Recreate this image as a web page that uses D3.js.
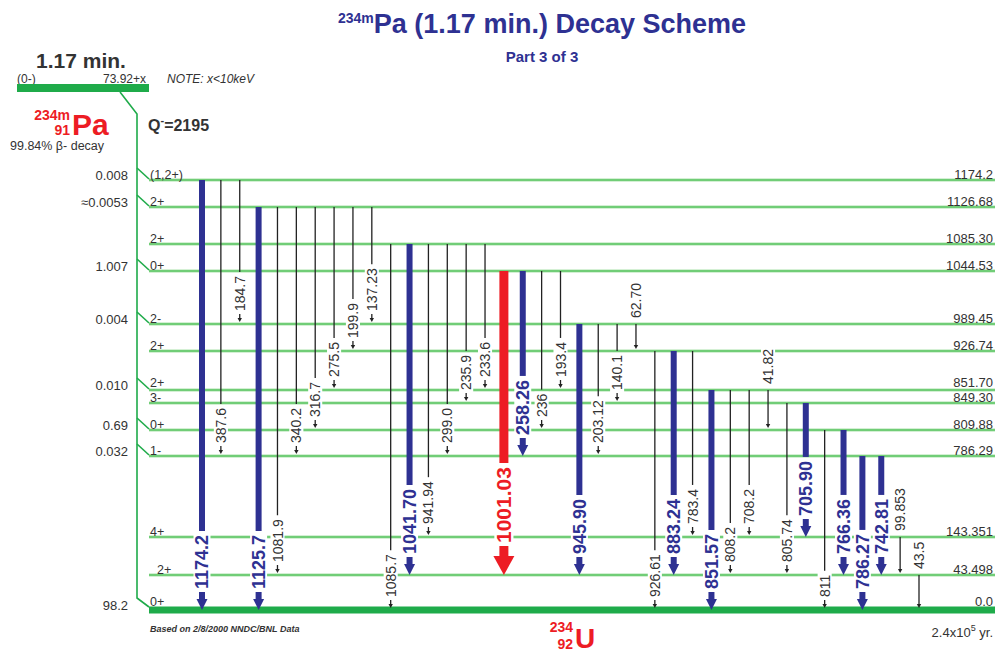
<!DOCTYPE html>
<html lang="en">
<head>
<meta charset="UTF-8">
<title>234mPa Decay Scheme - Part 3</title>
<script src="https://d3js.org/d3.v7.min.js"></script>
<style>
    body { margin: 0; background: #fff; }
    svg { display: block; font-family: "Liberation Sans", Arial, sans-serif; }
    .txt { fill: #333; }
</style>
</head>
<body>
<div id="chart"></div>
<script>
// levels of 234U fed in this part
const levelEnergies = [1174.2, 1126.68, 1085.30, 1044.53, 989.45, 926.74, 851.70, 849.30, 809.88, 786.29, 143.351, 43.498, 0.0];
const levelLabels = ["1174.2", "1126.68", "1085.30", "1044.53", "989.45", "926.74", "851.70", "849.30", "809.88", "786.29", "143.351", "43.498", "0.0"];
const levelSpins = ["(1,2+)", "2+", "2+", "0+", "2-", "2+", "2+", "3-", "0+", "1-", "4+", "2+", "0+"];
const betaFeeding = ["0.008", "\u22480.0053", "", "1.007", "0.004", "", "0.010", "", "0.69", "0.032", "", "", "98.2"];

// gamma transitions, left to right
const gammaFrom = [1174.2, 1174.2, 1174.2, 1126.68, 1126.68, 1126.68, 1126.68, 1126.68, 1126.68, 1126.68,
    1085.30, 1085.30, 1085.30, 1085.30, 1085.30, 1085.30, 1044.53, 1044.53, 1044.53, 1044.53,
    989.45, 989.45, 989.45, 989.45, 926.74, 926.74, 926.74, 851.70, 851.70, 851.70, 851.70,
    849.30, 849.30, 809.88, 809.88, 786.29, 786.29, 143.351, 43.498];
const gammaTo = [0.0, 786.29, 989.45, 0.0, 43.498, 786.29, 809.88, 851.70, 926.74, 989.45,
    0.0, 43.498, 143.351, 786.29, 849.30, 851.70, 43.498, 786.29, 809.88, 851.70,
    43.498, 786.29, 849.30, 926.74, 0.0, 43.498, 143.351, 0.0, 43.498, 143.351, 809.88,
    43.498, 143.351, 0.0, 43.498, 0.0, 43.498, 43.498, 0.0];
const gammaLabels = ["1174.2", "387.6", "184.7", "1125.7", "1081.9", "340.2", "316.7", "275.5", "199.9", "137.23",
    "1085.7", "1041.70", "941.94", "299.0", "235.9", "233.6", "1001.03", "258.26", "236", "193.4",
    "945.90", "203.12", "140.1", "62.70", "926.61", "883.24", "783.4", "851.57", "808.2", "708.2", "41.82",
    "805.74", "705.90", "811", "766.36", "786.27", "742.81", "99.853", "43.5"];
// intensity class: 0 weak, 1 strong, 2 strongest
const gammaClass = [1, 0, 0, 1, 0, 0, 0, 0, 0, 0,
    0, 1, 0, 0, 0, 0, 2, 1, 0, 0,
    1, 0, 0, 0, 0, 1, 0, 1, 0, 0, 0,
    0, 1, 0, 1, 1, 1, 0, 0];

// layout (schematic, not to energy scale)
const levelRowY = [180, 207, 244, 271, 324, 351, 390, 403, 430, 456, 537, 575, 610];
const width = 998, height = 653;
const lineX0 = 149, lineX1 = 995;
const BLUE = "#2e3192", RED = "#ed1c24", GREEN = "#1fab4a";

const svg = d3.select("#chart").append("svg")
    .attr("width", width)
    .attr("height", height);

const y = d3.scaleLinear().domain(levelEnergies).range(levelRowY);
const x = d3.scalePoint().domain(d3.range(gammaLabels.length)).range([202, 919]);

// title
const title = svg.append("text")
    .attr("x", 542).attr("y", 33)
    .attr("text-anchor", "middle")
    .attr("fill", BLUE).attr("font-weight", "bold");
title.append("tspan").attr("font-size", 14).attr("dy", -10).text("234m");
title.append("tspan").attr("font-size", 27).attr("dy", 10).text("Pa (1.17 min.) Decay Scheme");
svg.append("text")
    .attr("x", 542).attr("y", 62)
    .attr("text-anchor", "middle")
    .attr("fill", BLUE).attr("font-weight", "bold").attr("font-size", 15)
    .text("Part 3 of 3");

// parent level
svg.append("text").attr("class", "txt").attr("x", 36).attr("y", 68)
    .attr("font-size", 21).attr("font-weight", "bold").text("1.17 min.");
svg.append("text").attr("class", "txt").attr("x", 17).attr("y", 83)
    .attr("font-size", 12).text("(0-)");
svg.append("text").attr("class", "txt").attr("x", 146).attr("y", 83)
    .attr("font-size", 12).attr("text-anchor", "end").text("73.92+x");
svg.append("text").attr("class", "txt").attr("x", 167).attr("y", 83)
    .attr("font-size", 12).attr("font-style", "italic").text("NOTE: x<10keV");
svg.append("rect").attr("x", 17).attr("y", 84).attr("width", 132).attr("height", 8).attr("fill", GREEN);

const pa = svg.append("g").attr("fill", RED).attr("font-weight", "bold");
pa.append("text").attr("x", 70).attr("y", 120).attr("text-anchor", "end").attr("font-size", 14).text("234m");
pa.append("text").attr("x", 70).attr("y", 135).attr("text-anchor", "end").attr("font-size", 14).text("91");
pa.append("text").attr("x", 72).attr("y", 135).attr("font-size", 30).text("Pa");
svg.append("text").attr("class", "txt").attr("x", 10).attr("y", 150)
    .attr("font-size", 12.5).text("99.84% \u03b2- decay");

const q = svg.append("text").attr("class", "txt").attr("x", 148).attr("y", 131)
    .attr("font-size", 16).attr("font-weight", "bold");
q.append("tspan").text("Q");
q.append("tspan").attr("dy", -7).attr("font-size", 11).text("-");
q.append("tspan").attr("dy", 7).text("=2195");

// beta path
const pathX = 137;
svg.append("path")
    .attr("d", `M120,92 L${pathX},114 L${pathX},${y(0) - 12} L${lineX0},${y(0) - 3}`)
    .attr("fill", "none").attr("stroke", GREEN).attr("stroke-width", 1.6);

// level lines
const levels = svg.append("g");
levelEnergies.forEach((e, i) => {
    const ly = y(e);
    if (e === 0) {
        levels.append("line")
            .attr("x1", lineX0).attr("x2", lineX1).attr("y1", ly).attr("y2", ly)
            .attr("stroke", GREEN).attr("stroke-width", 7);
    } else {
        levels.append("line")
            .attr("x1", lineX0).attr("x2", lineX1).attr("y1", ly).attr("y2", ly)
            .attr("stroke", "#c6ebc6").attr("stroke-width", 3.4);
        levels.append("line")
            .attr("x1", lineX0).attr("x2", lineX1).attr("y1", ly).attr("y2", ly)
            .attr("stroke", "#55c35c").attr("stroke-width", 1.3);
    }
    // keep close-lying labels apart
    const close = i < levelEnergies.length - 1 && (y(levelEnergies[i + 1]) - ly) < 15;
    const ty = e === 0 ? ly - 4 : ly - (close ? 3 : 1);
    levels.append("text").attr("class", "txt")
        .attr("x", i === 11 ? 157 : 150).attr("y", ty)
        .attr("font-size", 12.5).text(levelSpins[i]);
    levels.append("text").attr("class", "txt")
        .attr("x", 993).attr("y", ty)
        .attr("text-anchor", "end").attr("font-size", 13).text(levelLabels[i]);
    if (betaFeeding[i] && e !== 0) {
        levels.append("path")
            .attr("d", `M${pathX},${ly - 12} L${lineX0},${ly - 1}`)
            .attr("stroke", GREEN).attr("stroke-width", 1.6).attr("fill", "none");
    }
    if (betaFeeding[i]) {
        levels.append("text").attr("class", "txt")
            .attr("x", 128).attr("y", ly)
            .attr("text-anchor", "end").attr("font-size", 13).text(betaFeeding[i]);
    }
});

// gamma transitions
const bgLayer = svg.append("g");
const lineLayer = svg.append("g");
const textLayer = svg.append("g");
const style = [
    { size: 14, weight: "normal", color: "#222", text: "#333", w: 1.3, gap: 13, head: [2.2, 4] },
    { size: 18, weight: "bold", color: BLUE, text: BLUE, w: 6, gap: 21, head: [5.5, 11] },
    { size: 21, weight: "bold", color: RED, text: RED, w: 9, gap: 32, head: [10.5, 19] }
];

gammaLabels.forEach((lab, i) => {
    const s = style[gammaClass[i]];
    const gx = x(i), y0 = y(gammaFrom[i]), y1 = y(gammaTo[i]);
    const t = textLayer.append("text")
        .attr("font-size", s.size).attr("font-weight", s.weight)
        .attr("fill", s.text).attr("dy", "0.36em")
        .text(lab);
    const len = t.node().getComputedTextLength();
    const above = (y1 - y0) < len + s.gap + 8;
    const bottom = above ? y0 - 6 : y1 - s.gap;
    const top = bottom - len;
    t.attr("transform", `translate(${gx},${bottom}) rotate(-90)`);
    const th = s.size * 0.72 + 4;
    bgLayer.append("rect")
        .attr("x", gx - th / 2).attr("y", top - 2)
        .attr("width", th).attr("height", len + 4)
        .attr("fill", "#fff");

    const [hw, hh] = s.head;
    if (above) {
        lineLayer.append("line").attr("x1", gx).attr("x2", gx)
            .attr("y1", y0).attr("y2", y1 - hh)
            .attr("stroke", s.color).attr("stroke-width", s.w);
    } else {
        lineLayer.append("line").attr("x1", gx).attr("x2", gx)
            .attr("y1", y0).attr("y2", top - 4)
            .attr("stroke", s.color).attr("stroke-width", s.w);
        lineLayer.append("line").attr("x1", gx).attr("x2", gx)
            .attr("y1", bottom + 3).attr("y2", y1 - hh)
            .attr("stroke", s.color).attr("stroke-width", s.w);
    }
    const tip = gammaClass[i] === 0 ? y1 - 2 : y1;
    lineLayer.append("path")
        .attr("d", `M${gx - hw},${tip - hh} L${gx + hw},${tip - hh} L${gx},${tip} Z`)
        .attr("fill", s.color);
});

// daughter and footer
svg.append("text").attr("class", "txt").attr("x", 150).attr("y", 632)
    .attr("font-size", 9).attr("font-style", "italic").attr("font-weight", "bold")
    .attr("fill", "#444").text("Based on 2/8/2000 NNDC/BNL Data");
const u = svg.append("g").attr("fill", RED).attr("font-weight", "bold");
u.append("text").attr("x", 573).attr("y", 632).attr("text-anchor", "end").attr("font-size", 14).text("234");
u.append("text").attr("x", 573).attr("y", 649).attr("text-anchor", "end").attr("font-size", 14).text("92");
u.append("text").attr("x", 575).attr("y", 648).attr("font-size", 28).text("U");
const hl = svg.append("text").attr("class", "txt").attr("x", 993).attr("y", 637)
    .attr("text-anchor", "end").attr("font-size", 13);
hl.append("tspan").text("2.4x10");
hl.append("tspan").attr("dy", -6).attr("font-size", 9).text("5");
hl.append("tspan").attr("dy", 6).text(" yr.");
</script>
</body>
</html>
